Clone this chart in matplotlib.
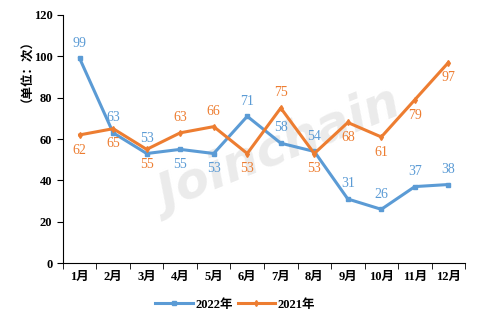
import matplotlib
matplotlib.use("Agg")
import matplotlib.pyplot as plt

MONTHS = ["1月", "2月", "3月", "4月", "5月", "6月", "7月", "8月", "9月", "10月", "11月", "12月"]
Y2022 = [99, 63, 53, 55, 53, 71, 58, 54, 31, 26, 37, 38]
Y2021 = [62, 65, 55, 63, 66, 53, 75, 53, 68, 61, 79, 97]
# label placement: +1 above the point, -1 below
POS2022 = [1, 1, 1, -1, -1, 1, 1, 1, 1, 1, 1, 1]
POS2021 = [-1, -1, -1, 1, 1, -1, 1, -1, -1, -1, -1, -1]

BLUE = "#5B9BD5"
ORANGE = "#ED7D31"
FONT = ["Liberation Serif", "Noto Sans CJK SC"]

plt.rcParams["font.family"] = FONT
plt.rcParams["font.weight"] = "bold"

fig = plt.figure(figsize=(4.8, 3.26), dpi=100)
ax = fig.add_axes([0.131, 0.193, 0.838, 0.761])

# watermark
ax.text(0.54, 0.45, "Joinchain", transform=ax.transAxes, rotation=22,
        ha="center", va="center", fontsize=36, color="#ebebeb",
        family=["DejaVu Sans"], fontweight="bold", style="italic", zorder=0)

x = list(range(len(MONTHS)))
l1, = ax.plot(x, Y2022, color=BLUE, lw=2.2, marker="s", ms=3.5, label="2022年")
l2, = ax.plot(x, Y2021, color=ORANGE, lw=2.2, marker="d", ms=3, label="2021年")

for xi, v, p in zip(x, Y2022, POS2022):
    ax.annotate(str(v), (xi, v), xytext=(0, 11 * p), textcoords="offset points",
                ha="center", va="center", color=BLUE, fontsize=10, fontweight="normal")
for xi, v, p in zip(x, Y2021, POS2021):
    ax.annotate(str(v), (xi, v), xytext=(0, 11 * p), textcoords="offset points",
                ha="center", va="center", color=ORANGE, fontsize=10, fontweight="normal")

ax.set_xlim(-0.5, len(MONTHS) - 0.5)
ax.set_ylim(0, 120)
ax.set_yticks(range(0, 121, 20))
ax.set_xticks(x)
ax.set_xticklabels(MONTHS, fontsize=9, fontweight="bold")
ax.set_xticks([i - 0.5 for i in range(len(MONTHS) + 1)], minor=True)
ax.tick_params(axis="x", which="major", length=0, pad=6)
ax.tick_params(axis="x", which="minor", length=4, direction="out")
ax.tick_params(axis="y", length=4, direction="out", labelsize=9)
for lab in ax.get_yticklabels():
    lab.set_fontweight("bold")
for s in ["top", "right"]:
    ax.spines[s].set_visible(False)

ax.text(-0.105, 0.8, "（单位：次）", transform=ax.transAxes, rotation=90,
        ha="center", va="center", fontsize=9, fontweight="bold",
        family=["Noto Sans CJK SC", "DejaVu Sans"])

fig.legend(handles=[l1, l2], loc="center", bbox_to_anchor=(0.49, 0.065),
           ncol=2, frameon=False, fontsize=9, handlelength=3, columnspacing=0.4,
           handletextpad=0.2)

fig.savefig("out.png", dpi=100)
